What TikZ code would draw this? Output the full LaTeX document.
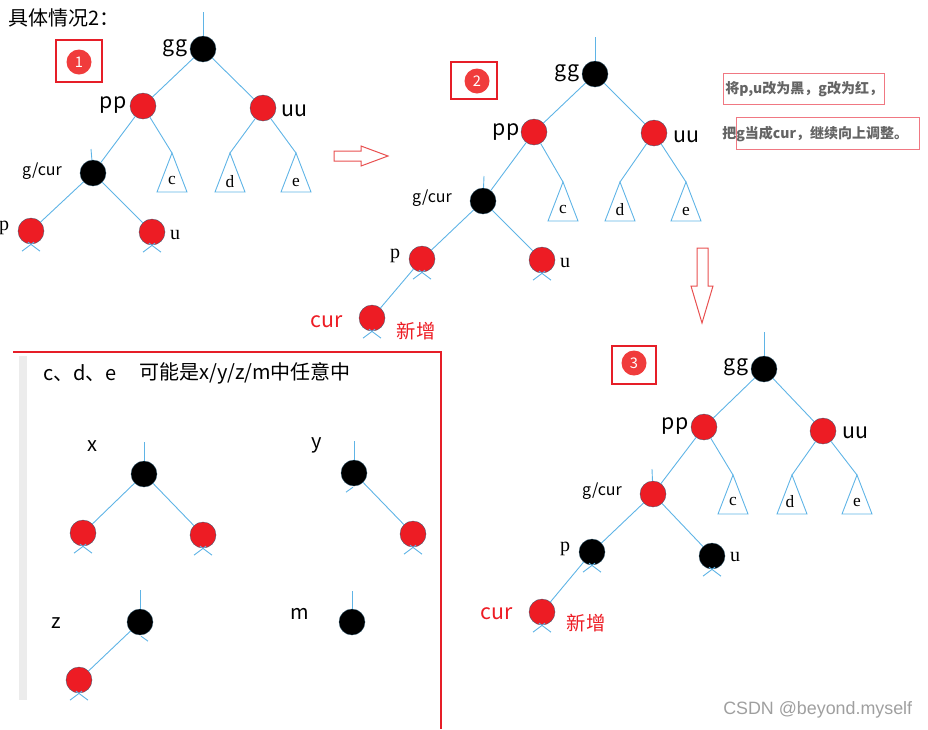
\documentclass[tikz,border=0pt]{standalone}
\usepackage{fontspec}
\setmainfont{Liberation Serif}
\newfontfamily\cjk{Noto Sans CJK SC}
\newfontfamily\arialf{Liberation Sans}
\definecolor{lnc}{RGB}{95,180,230}
\definecolor{rdn}{RGB}{237,28,36}
\definecolor{bdg}{RGB}{240,60,60}
\definecolor{frm}{RGB}{230,30,40}
\definecolor{anc}{RGB}{240,120,130}
\definecolor{arr}{RGB}{232,80,80}
\definecolor{gtx}{RGB}{100,100,100}
\newdimen\pxu \pxu=0.75pt
\newcommand\nilx[1]{\draw[edge] (#1.south) ++(-9,7) -- ++(12,-9); \draw[edge] (#1.south) ++(9,7) -- ++(-12,-9);}
\newcommand\tri[1]{\draw[edge] (#1) -- ++(-15,39) -- ++(30,0) -- cycle;}
\tikzset{
 edge/.style={draw=lnc, line width=0.9\pxu},
 rnode/.style={circle, fill=rdn, draw=lnc!50!black, line width=0.3\pxu, minimum size=26\pxu, inner sep=0},
 bnode/.style={circle, fill=black, draw=lnc!50!black, line width=0.3\pxu, minimum size=26\pxu, inner sep=0},
 big/.style={inner sep=0, font=\cjk\fontsize{16}{18}\selectfont},
 gcl/.style={inner sep=0, font=\cjk\fontsize{12}{14}\selectfont},
 ser/.style={inner sep=0, font=\fontsize{15}{17}\selectfont},
 trl/.style={inner sep=0, font=\fontsize{13}{15}\selectfont},
 redl/.style={inner sep=0, text=rdn, font=\cjk\fontsize{16}{18}\selectfont},
 xinz/.style={inner sep=0, text=rdn, font=\cjk\fontsize{14.5}{16}\selectfont},
 boxl/.style={inner sep=0, font=\cjk\fontsize{15}{17}\selectfont},
 badge/.style={draw=frm, line width=2.5\pxu, inner sep=0},
 bdot/.style={circle, fill=bdg, minimum size=25\pxu, inner sep=0, text=white, font=\cjk\fontsize{11}{12}\selectfont},
 note/.style={inner sep=0, anchor=west, text=gtx, font=\cjk\bfseries\fontsize{10.5}{12}\selectfont},
}
\begin{document}
\begin{tikzpicture}[x=0.75pt,y=-0.75pt]
\useasboundingbox (0,0) rectangle (928,729);
% title
\node[boxl, anchor=west] (title) at (8,18) {具体情况2：};

% ===== Tree 1 =====
\node[badge, minimum width=46\pxu, minimum height=42\pxu] (bx1) at (79,61) {};
\node[bdot] (bd1) at (79,62) {1};
\coordinate (atop) at (203,12);
\coordinate (agt) at (91,149);
\node[bnode] (agg) at (203,49) {};
\node[rnode] (app) at (143,106) {};
\node[rnode] (auu) at (263,108) {};
\node[bnode] (ag) at (93,173) {};
\node[rnode] (ap) at (31,231) {};
\node[rnode] (au) at (152,232) {};
\coordinate (ac) at (172,153);
\coordinate (ad) at (230,153);
\coordinate (ae) at (296,153);
\draw[edge] (atop) -- (agg);
\draw[edge] (agg) -- (app);
\draw[edge] (agg) -- (auu);
\draw[edge] (app) -- (ag);
\draw[edge] (app) -- (ac);
\draw[edge] (auu) -- (ad);
\draw[edge] (auu) -- (ae);
\draw[edge] (ag) -- (ap);
\draw[edge] (ag) -- (au);
\draw[edge] (agt) -- (ag);
\tri{ac}\tri{ad}\tri{ae}
\nilx{ap}\nilx{au}
\node[big] (lagg) at (175,48) {gg};
\node[big] (lapp) at (113,105) {pp};
\node[big] (lauu) at (294,111) {uu};
\node[gcl] (lag) at (42,171) {g/cur};
\node[ser] (lap) at (4,228) {p};
\node[ser] (lau) at (175,235) {u};
\node[trl] (lac) at (172,180) {c};
\node[trl] (lad) at (230,182) {d};
\node[trl] (lae) at (296,182) {e};

% right arrow
\draw[arr, line width=1\pxu] (334,151) -- (361,151) -- (361,146) -- (388,156) -- (361,166) -- (361,161) -- (334,161) -- cycle;

% ===== Tree 2 =====
\node[badge, minimum width=46\pxu, minimum height=37\pxu] (bx2) at (474,80.5) {};
\node[bdot] (bd2) at (477,81) {2};
\coordinate (btop) at (595,37);
\coordinate (bgt) at (484,176);
\node[bnode] (bgg) at (595,74) {};
\node[rnode] (bpp) at (534,132) {};
\node[rnode] (buu) at (654,133) {};
\node[bnode] (bg) at (483,201) {};
\node[rnode] (bp) at (422,259) {};
\node[rnode] (bu) at (542,260) {};
\node[rnode] (bcur) at (372,318) {};
\coordinate (bc) at (563,182);
\coordinate (bd) at (620,182);
\coordinate (be) at (686,182);
\draw[edge] (btop) -- (bgg);
\draw[edge] (bgg) -- (bpp);
\draw[edge] (bgg) -- (buu);
\draw[edge] (bpp) -- (bg);
\draw[edge] (bpp) -- (bc);
\draw[edge] (buu) -- (bd);
\draw[edge] (buu) -- (be);
\draw[edge] (bg) -- (bp);
\draw[edge] (bg) -- (bu);
\draw[edge] (bp) -- (bcur);
\draw[edge] (bgt) -- (bg);
\tri{bc}\tri{bd}\tri{be}
\nilx{bp}\nilx{bu}\nilx{bcur}
\node[big] (lbgg) at (567,73) {gg};
\node[big] (lbpp) at (506,132) {pp};
\node[big] (lbuu) at (686,137) {uu};
\node[gcl] (lbg) at (432,198) {g/cur};
\node[ser] (lbp) at (395,256) {p};
\node[ser] (lbu) at (565,263) {u};
\node[trl] (lbc) at (563,209) {c};
\node[trl] (lbd) at (620,210) {d};
\node[trl] (lbe) at (686,211) {e};
\node[redl] (lbcur) at (327,322) {cur};
\node[xinz] (lbnew) at (416,331) {新增};

% notes
\draw[anc, line width=1\pxu] (723,73) rectangle (884,104);
\draw[anc, line width=1\pxu] (736,117) rectangle (919,149);
\node[note] (n1) at (725,89) {将p,u改为黑，g改为红，};
\node[note] (n2) at (722,134) {把g当成cur，继续向上调整。};

% down arrow
\draw[arr, line width=1\pxu] (697,248) -- (708,248) -- (708,286) -- (713,286) -- (702,323) -- (691,286) -- (697,286) -- cycle;

% ===== Tree 3 =====
\node[badge, minimum width=44\pxu, minimum height=38\pxu] (bx3) at (634,365) {};
\node[bdot] (bd3) at (634,363) {3};
\coordinate (ctop) at (764,332);
\coordinate (cgt) at (652,469);
\node[bnode] (cgg) at (764,369) {};
\node[rnode] (cpp) at (704,427) {};
\node[rnode] (cuu) at (823,431) {};
\node[rnode] (cg) at (653,494) {};
\node[bnode] (cp) at (592,552) {};
\node[bnode] (cu) at (712,556) {};
\node[rnode] (ccur) at (542,612) {};
\coordinate (cc) at (733,475);
\coordinate (cd) at (792,475);
\coordinate (ce) at (857,475);
\draw[edge] (ctop) -- (cgg);
\draw[edge] (cgg) -- (cpp);
\draw[edge] (cgg) -- (cuu);
\draw[edge] (cpp) -- (cg);
\draw[edge] (cpp) -- (cc);
\draw[edge] (cuu) -- (cd);
\draw[edge] (cuu) -- (ce);
\draw[edge] (cg) -- (cp);
\draw[edge] (cg) -- (cu);
\draw[edge] (cp) -- (ccur);
\draw[edge] (cgt) -- (cg);
\tri{cc}\tri{cd}\tri{ce}
\nilx{cp}\nilx{cu}\nilx{ccur}
\node[big] (lcgg) at (736,367) {gg};
\node[big] (lcpp) at (675,426) {pp};
\node[big] (lcuu) at (855,433) {uu};
\node[gcl] (lcg) at (602,491) {g/cur};
\node[ser] (lcp) at (565,549) {p};
\node[ser] (lcu) at (735,557) {u};
\node[trl] (lcc) at (733,501) {c};
\node[trl] (lcd) at (790,502) {d};
\node[trl] (lce) at (857,502) {e};
\node[redl] (lccur) at (497,614) {cur};
\node[xinz] (lcnew) at (586,623) {新增};

% ===== bottom box =====
\fill[gray!15] (19,356) rectangle (27,700);
\draw[frm, line width=2.5\pxu] (13,352) -- (441,352) -- (441,729);
\node[boxl, anchor=west] (bt1) at (43,373) {c、d、e};
\node[boxl, anchor=west] (bt2) at (139,373) {可能是x/y/z/m中任意中};

\coordinate (xtop) at (144,442);
\node[bnode] (xr) at (144,474) {};
\node[rnode] (xl) at (83,533) {};
\node[rnode] (xrr) at (203,535) {};
\draw[edge] (xtop) -- (xr);
\draw[edge] (xr) -- (xl);
\draw[edge] (xr) -- (xrr);
\nilx{xl}\nilx{xrr}
\node[boxl] (lx) at (92,446) {x};

\coordinate (ytop) at (354,441);
\node[bnode] (yr) at (354,473) {};
\node[rnode] (yrr) at (413,534) {};
\draw[edge] (ytop) -- (yr);
\draw[edge] (yr) -- (yrr);
\draw[edge] (yr.south) ++(-8,6) -- ++(7,-5);
\nilx{yrr}
\node[boxl] (ly) at (317,445) {y};

\coordinate (ztop) at (140,590);
\node[bnode] (zr) at (140,622) {};
\node[rnode] (zl) at (79,680) {};
\draw[edge] (ztop) -- (zr);
\draw[edge] (zr) -- (zl);
\draw[edge] (zr.south) ++(8,6) -- ++(-7,-5);
\nilx{zl}
\node[boxl] (lz) at (56,623) {z};

\coordinate (mtop) at (352,591);
\node[bnode] (mr) at (352,622) {};
\draw[edge] (mtop) -- (mr);
\node[boxl] (lm) at (300,614) {m};

% watermark
\node[inner sep=0, anchor=west, text=gray!75, font=\arialf\fontsize{13.4}{15}\selectfont] (wm) at (723,710) {CSDN @beyond.myself};
\end{tikzpicture}
\end{document}
